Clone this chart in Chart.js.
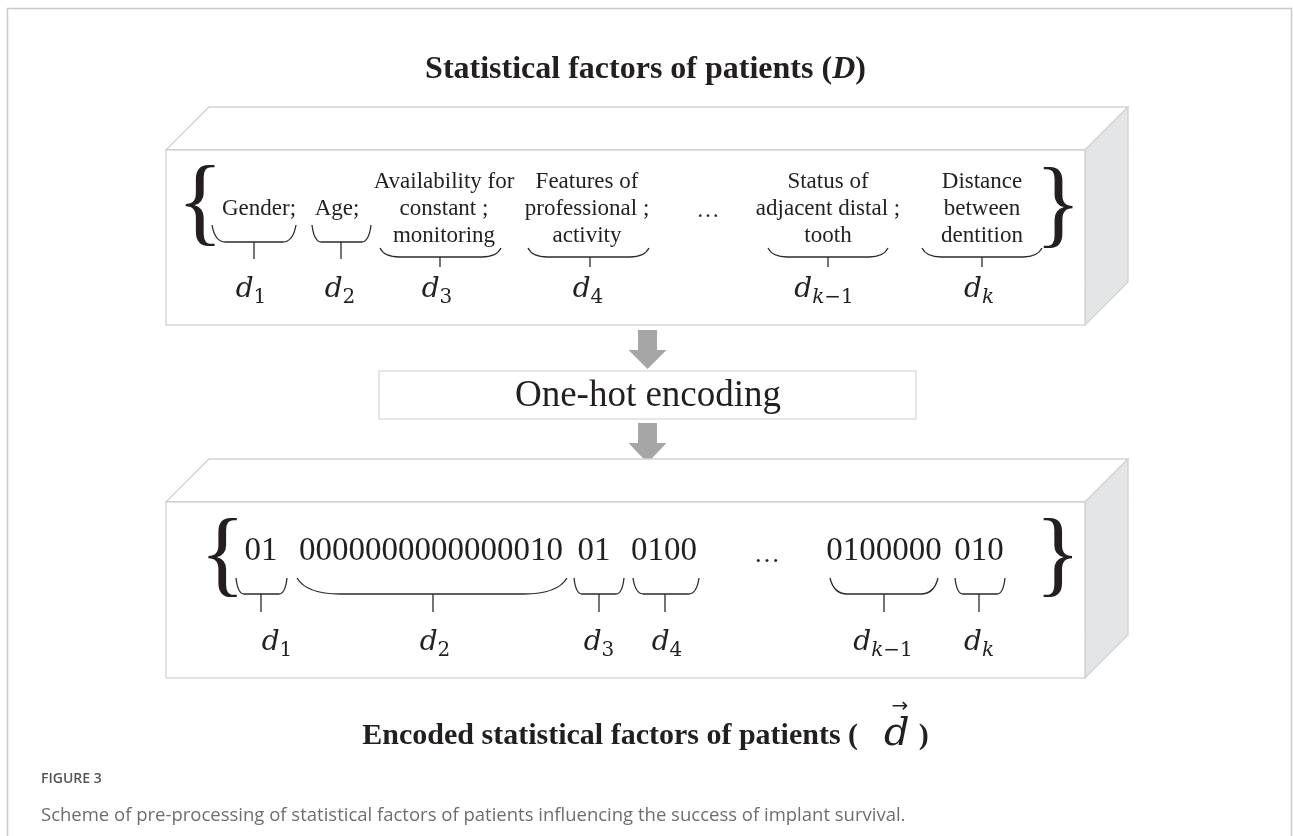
<!DOCTYPE html>
<html>
<head>
<meta charset="utf-8">
<script src="https://cdn.jsdelivr.net/npm/chart.js@4.4.0/dist/chart.umd.min.js"></script>
<style>
  html, body { margin: 0; padding: 0; background: #fff; }
  canvas { display: block; }
</style>
</head>
<body>
<canvas id="scheme" width="1293" height="836"></canvas>
<script>
// text content of the scheme
const titleTop = ['Statistical factors of patients (', 'D', ')'];
const titleBottom = ['Encoded statistical factors of patients (', 'd', ')'];
const factorNames = [
    ['Gender;'],
    ['Age;'],
    ['Availability for', 'constant ;', 'monitoring'],
    ['Features of', 'professional ;', 'activity'],
    ['Status of', 'adjacent distal ;', 'tooth'],
    ['Distance', 'between', 'dentition']
];
const factorIndex = ['1', '2', '3', '4', 'k\u22121', 'k'];
const encodedCodes = ['01', '0000000000000010', '01', '0100', '0100000', '010'];
const stepLabel = 'One-hot encoding';
const figureLabel = 'FIGURE 3';
const captionText = 'Scheme of pre-processing of statistical factors of patients influencing the success of implant survival.';

// layout of the drawing, in scale units (one unit = one pixel of the page)
const topCols = [
    { cx: 259, b0: 212, b1: 296, tick: 254, lx: 251, tip: 225, bot: 242, end: 259 },
    { cx: 337, b0: 312, b1: 371, tick: 341, lx: 340, tip: 225, bot: 242, end: 259 },
    { cx: 444, b0: 380, b1: 501, tick: 440, lx: 437, tip: 248, bot: 257, end: 267 },
    { cx: 587, b0: 528, b1: 649, tick: 590, lx: 588, tip: 248, bot: 257, end: 267 },
    { cx: 828, b0: 768, b1: 888, tick: 828, lx: 824, tip: 248, bot: 257, end: 267 },
    { cx: 982, b0: 922, b1: 1042, tick: 982, lx: 979, tip: 248, bot: 257, end: 267 }
];
const botCols = [
    { cx: 261, b0: 236, b1: 287, tick: 261, lx: 277 },
    { cx: 431, b0: 297, b1: 567, tick: 433, lx: 435 },
    { cx: 594, b0: 574, b1: 624, tick: 599, lx: 599 },
    { cx: 664, b0: 633, b1: 699, tick: 665, lx: 667 },
    { cx: 884, b0: 830, b1: 938, tick: 884, lx: 883 },
    { cx: 979, b0: 955, b1: 1005, tick: 979, lx: 979 }
];

const INK = '#231f20';
const SERIF = '"Liberation Serif", "Times New Roman", serif';
const MATH = '"DejaVu Serif", serif';

const schemePlugin = {
    id: 'scheme',
    afterDraw(chart) {
        const ctx = chart.ctx;
        const sx = chart.scales.x, sy = chart.scales.y;
        const X = v => sx.getPixelForValue(v);
        const Y = v => sy.getPixelForValue(v);

        function text(str, x, y, font, color, align) {
            ctx.font = font;
            ctx.fillStyle = color || INK;
            ctx.textAlign = align || 'center';
            ctx.textBaseline = 'alphabetic';
            ctx.fillText(str, X(x), Y(y));
        }

        // runs of text in different fonts, centred as one line
        function runs(parts, cx, base) {
            let total = 0;
            parts.forEach(p => {
                if (p.gap) { total += p.gap; return; }
                ctx.font = p.font;
                p.w = ctx.measureText(p.text).width;
                total += p.w;
            });
            let x = X(cx) - total / 2;
            parts.forEach(p => {
                if (p.gap) { x += p.gap; return; }
                ctx.font = p.font;
                ctx.fillStyle = INK;
                ctx.textAlign = 'left';
                ctx.textBaseline = 'alphabetic';
                ctx.fillText(p.text, x, Y(base) + (p.dy || 0));
                p.x = x;
                x += p.w;
            });
            return parts;
        }

        // a glyph scaled so that its ink fills the given box height
        function glyph(ch, cx, top, bottom) {
            ctx.font = '100px ' + SERIF;
            let m = ctx.measureText(ch);
            const h = m.actualBoundingBoxAscent + m.actualBoundingBoxDescent;
            const size = 100 * (Y(bottom) - Y(top)) / h;
            ctx.font = size + 'px ' + SERIF;
            m = ctx.measureText(ch);
            const inkW = m.actualBoundingBoxLeft + m.actualBoundingBoxRight;
            ctx.fillStyle = INK;
            ctx.textAlign = 'left';
            ctx.textBaseline = 'alphabetic';
            ctx.fillText(ch, X(cx) - inkW / 2 + m.actualBoundingBoxLeft, Y(top) + m.actualBoundingBoxAscent);
        }

        // horizontal under-brace with a tick in the middle
        function underBrace(x0, x1, tip, bot, tick, end) {
            const r = Math.min(28, (x1 - x0) * 0.1);
            ctx.beginPath();
            ctx.moveTo(X(x0), Y(tip));
            ctx.quadraticCurveTo(X(x0 + r * 0.35), Y(bot), X(x0 + r * 1.6), Y(bot));
            ctx.lineTo(X(x1 - r * 1.6), Y(bot));
            ctx.quadraticCurveTo(X(x1 - r * 0.35), Y(bot), X(x1), Y(tip));
            ctx.moveTo(X(tick), Y(bot));
            ctx.lineTo(X(tick), Y(end));
            ctx.strokeStyle = '#2b2b2b';
            ctx.lineWidth = 1.3;
            ctx.stroke();
        }

        // d with a subscript
        function symbol(sub, cx, base) {
            const parts = [{ text: 'd', font: 'italic 28px ' + MATH }];
            const m = sub.match(/^(k)(.*)$/);
            if (m) {
                parts.push({ text: 'k', font: 'italic 20px ' + MATH, dy: 6 });
                if (m[2]) parts.push({ text: m[2], font: '20px ' + MATH, dy: 6 });
            } else {
                parts.push({ text: sub, font: '20px ' + MATH, dy: 6 });
            }
            runs(parts, cx, base);
        }

        // 3D slab
        function slab(x0, x1, y0, y1, depth) {
            ctx.lineWidth = 1.3;
            ctx.strokeStyle = '#d2d2d4';
            ctx.fillStyle = '#ffffff';
            ctx.beginPath();
            ctx.moveTo(X(x0), Y(y0));
            ctx.lineTo(X(x0 + depth), Y(y0 - depth));
            ctx.lineTo(X(x1 + depth), Y(y0 - depth));
            ctx.lineTo(X(x1), Y(y0));
            ctx.closePath();
            ctx.fill(); ctx.stroke();
            ctx.fillStyle = '#e4e5e7';
            ctx.beginPath();
            ctx.moveTo(X(x1), Y(y0));
            ctx.lineTo(X(x1 + depth), Y(y0 - depth));
            ctx.lineTo(X(x1 + depth), Y(y1 - depth));
            ctx.lineTo(X(x1), Y(y1));
            ctx.closePath();
            ctx.fill(); ctx.stroke();
            ctx.fillStyle = '#ffffff';
            ctx.fillRect(X(x0), Y(y0), X(x1) - X(x0), Y(y1) - Y(y0));
            ctx.strokeRect(X(x0), Y(y0), X(x1) - X(x0), Y(y1) - Y(y0));
        }

        function arrow(cx, top, head, tip) {
            ctx.fillStyle = '#a6a6a6';
            ctx.beginPath();
            ctx.moveTo(X(cx - 9.5), Y(top));
            ctx.lineTo(X(cx + 9.5), Y(top));
            ctx.lineTo(X(cx + 9.5), Y(head));
            ctx.lineTo(X(cx + 19), Y(head));
            ctx.lineTo(X(cx), Y(tip));
            ctx.lineTo(X(cx - 19), Y(head));
            ctx.lineTo(X(cx - 9.5), Y(head));
            ctx.closePath();
            ctx.fill();
        }

        ctx.save();

        // page frame
        ctx.strokeStyle = '#c8c8c8';
        ctx.lineWidth = 1.5;
        ctx.strokeRect(X(7.5), Y(8.5), X(1291.5) - X(7.5), Y(900) - Y(8.5));

        // top title
        runs([
            { text: titleTop[0], font: 'bold 32px ' + SERIF },
            { text: titleTop[1], font: 'italic bold 32px ' + SERIF },
            { text: titleTop[2], font: 'bold 32px ' + SERIF }
        ], 645.5, 78);

        // factors slab
        slab(166, 1085, 150, 325, 43);
        glyph('{', 200, 165, 245);
        glyph('}', 1058, 167, 247);
        const rowBase = [188, 215, 242];
        factorNames.forEach((lines, i) => {
            const c = topCols[i];
            lines.forEach((ln, k) => {
                const base = lines.length === 1 ? rowBase[1] : rowBase[k];
                text(ln, c.cx, base, '23px ' + SERIF);
            });
            underBrace(c.b0, c.b1, c.tip, c.bot, c.tick, c.end);
            symbol(factorIndex[i], c.lx, 297);
        });
        text('\u2026', 708, 217, '23px ' + SERIF);

        // encoding step
        arrow(647.5, 330, 350, 369);
        ctx.strokeStyle = '#d6d6d6';
        ctx.lineWidth = 1.2;
        ctx.fillStyle = '#fff';
        ctx.fillRect(X(379), Y(371), X(916) - X(379), Y(419) - Y(371));
        ctx.strokeRect(X(379), Y(371), X(916) - X(379), Y(419) - Y(371));
        text(stepLabel, 648, 406, '37px ' + SERIF);
        arrow(647.5, 423, 443, 463);

        // encoded slab
        slab(166, 1085, 502, 678, 43);
        glyph('{', 200, 518, 597);
        glyph('}', 1058, 518, 597);
        encodedCodes.forEach((code, i) => {
            const c = botCols[i];
            text(code, c.cx, 560, '33px ' + SERIF);
            underBrace(c.b0, c.b1, 578, 594, c.tick, 612);
            symbol(factorIndex[i], c.lx, 650);
        });
        text('\u2026', 767, 562, '26px ' + SERIF);

        // bottom title with vector d
        const parts = runs([
            { text: titleBottom[0], font: 'bold 30px ' + SERIF },
            { gap: 26 },
            { text: titleBottom[1], font: 'italic 40px ' + MATH, dy: 1 },
            { gap: 9 },
            { text: titleBottom[2], font: 'bold 30px ' + SERIF }
        ], 645.5, 744);
        const dPart = parts[2];
        ctx.font = '20px "DejaVu Sans", sans-serif';
        ctx.fillStyle = INK;
        ctx.textAlign = 'center';
        ctx.fillText('\u2192', dPart.x + dPart.w * 0.62, Y(712));

        // caption
        text(figureLabel, 41, 783, '600 14px "Open Sans", sans-serif', '#555555', 'left');
        text(captionText, 41, 821, '18.5px "Open Sans", sans-serif', '#6e6e6e', 'left');

        ctx.restore();
    }
};

const ctx = document.getElementById('scheme').getContext('2d');
new Chart(ctx, {
    type: 'scatter',
    data: { datasets: [] },
    options: {
        responsive: false,
        animation: false,
        events: [],
        devicePixelRatio: 1,
        layout: { padding: 0 },
        plugins: {
            legend: { display: false },
            tooltip: { enabled: false }
        },
        scales: {
            x: { type: 'linear', min: 0, max: 1293, display: false },
            y: { type: 'linear', min: 0, max: 836, reverse: true, display: false }
        }
    },
    plugins: [schemePlugin]
});
</script>
</body>
</html>
